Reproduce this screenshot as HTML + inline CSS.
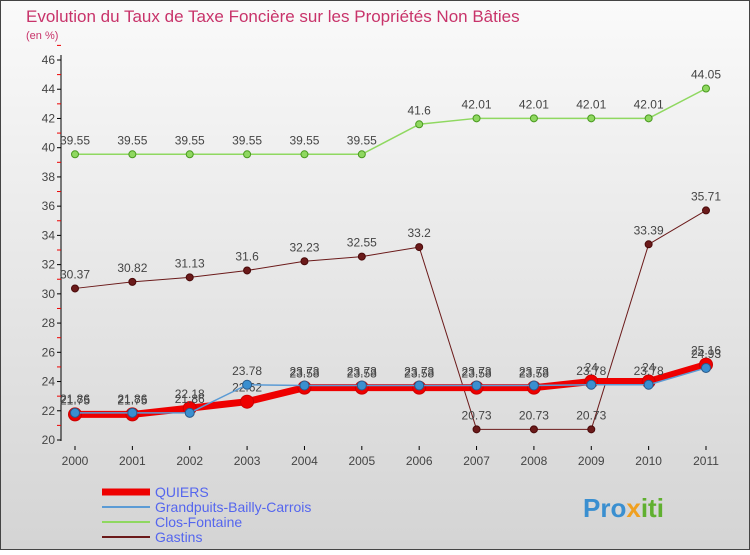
<!DOCTYPE html>
<html><head><meta charset="utf-8"><style>
body{margin:0;width:750px;height:550px;overflow:hidden;font-family:"Liberation Sans","DejaVu Sans",sans-serif}
</style></head><body>
<svg id="chart" width="750" height="550" xmlns="http://www.w3.org/2000/svg">
<defs><linearGradient id="bg" x1="0" y1="0" x2="0" y2="1"><stop offset="0" stop-color="#fafafa"/><stop offset="1" stop-color="#d4d4d4"/></linearGradient></defs>
<rect x="0.5" y="0.5" width="749" height="549" fill="url(#bg)" stroke="#444"/>
<text x="26" y="22" font-size="17" fill="#c8336a">Evolution du Taux de Taxe Foncière sur les Propriétés Non Bâties</text>
<text x="26" y="39" font-size="11" fill="#c8336a">(en %)</text>
<g id="axes"></g><g id="series"></g>
<g>
<line x1="102" y1="492" x2="150" y2="492" stroke="#ee0000" stroke-width="7"/>
<text x="155" y="497" font-size="14" fill="#5566ee">QUIERS</text>
<line x1="102" y1="507" x2="150" y2="507" stroke="#5b9bd5" stroke-width="2"/>
<text x="155" y="512" font-size="14" fill="#5566ee">Grandpuits-Bailly-Carrois</text>
<line x1="102" y1="522" x2="150" y2="522" stroke="#8fd860" stroke-width="2"/>
<text x="155" y="527" font-size="14" fill="#5566ee">Clos-Fontaine</text>
<line x1="102" y1="537" x2="150" y2="537" stroke="#6b1a1a" stroke-width="2"/>
<text x="155" y="542" font-size="14" fill="#5566ee">Gastins</text>
</g>
<text x="583" y="517" font-size="26" font-weight="bold" fill="#3a8fd0">Pro<tspan fill="#f0a020">x</tspan><tspan fill="#60b030">iti</tspan></text>
</svg>
<script>
const years=[2000,2001,2002,2003,2004,2005,2006,2007,2008,2009,2010,2011];
const quiers=[21.75,21.75,22.18,22.62,23.58,23.58,23.58,23.58,23.58,24,24,25.16];
const grandpuits=[21.86,21.86,21.86,23.78,23.73,23.73,23.73,23.73,23.73,23.78,23.78,24.93];
const closFontaine=[39.55,39.55,39.55,39.55,39.55,39.55,41.6,42.01,42.01,42.01,42.01,44.05];
const gastins=[30.37,30.82,31.13,31.6,32.23,32.55,33.2,20.73,20.73,20.73,33.39,35.71];
const yTicks=[20,22,24,26,28,30,32,34,36,38,40,42,44,46];
const NS="http://www.w3.org/2000/svg";
const X=i=>75+i*(706-75)/11;
const Y=v=>440-(v-20)*(380/26);
function el(p,t,a){const e=document.createElementNS(NS,t);for(const k in a)e.setAttribute(k,a[k]);p.appendChild(e);return e;}
const ax=document.getElementById('axes');
let a=el(ax,'line',{x1:61,y1:55,x2:61,y2:441,stroke:'#000'});

yTicks.forEach(v=>{el(ax,'line',{x1:57,y1:Y(v),x2:61,y2:Y(v),stroke:'#000'});
 el(ax,'line',{x1:57,y1:Y(v+1),x2:61,y2:Y(v+1),stroke:'#e00'});
 const t=el(ax,'text',{x:55,y:Y(v)+4,'font-size':12,'text-anchor':'end',fill:'#444'});t.textContent=v;
 });
years.forEach((yr,i)=>{el(ax,'line',{x1:X(i),y1:446,x2:X(i),y2:450,stroke:'#000'});
 const t=el(ax,'text',{x:X(i),y:465,'font-size':12,'text-anchor':'middle',fill:'#444'});t.textContent=yr;
 });
const sg=document.getElementById('series');
function series(name,vals,color,w,r,dot,fill){
 const g=el(sg,'g',{});
 el(g,'polyline',{points:vals.map((v,i)=>X(i)+','+Y(v)).join(' '),fill:'none',stroke:color,'stroke-width':w,'stroke-linejoin':'round'});
 vals.forEach((v,i)=>{const c=el(g,'circle',{cx:X(i),cy:Y(v),r:r,fill:fill,stroke:dot,'stroke-width':1});
  
  const t=el(g,'text',{x:X(i),y:Y(v)-10,'font-size':12,'text-anchor':'middle',fill:'#444'});t.textContent=String(v);
  });
}
series('clos-fontaine-series',closFontaine,'#8fd860',1.5,3.5,'#4a9a20','#8fd860');
series('gastins-series',gastins,'#6b1a1a',1,3.5,'#4a0a0a','#6b1a1a');
series('quiers-series',quiers,'#ee0000',7,6.5,'#cc0000','#ee0000');
series('grandpuits-series',grandpuits,'#5b9bd5',1.5,4.5,'#2a5a8a','#3a8fd0');
</script>
</body></html>
